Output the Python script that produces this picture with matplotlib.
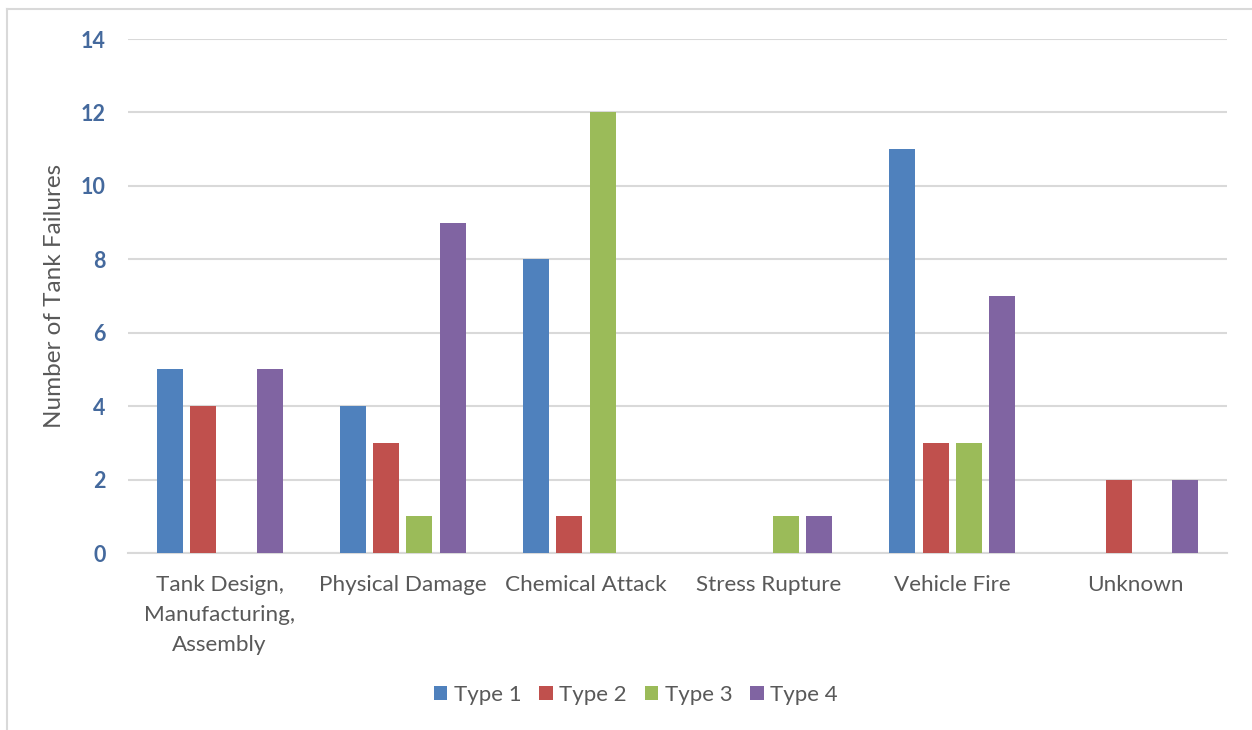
import numpy as np
import matplotlib.pyplot as plt
from matplotlib.lines import Line2D

categories = ['Tank Design,\nManufacturing,\nAssembly', 'Physical Damage', 'Chemical Attack',
              'Stress Rupture', 'Vehicle Fire', 'Unknown']
series = ['Type 1', 'Type 2', 'Type 3', 'Type 4']
type1 = [5, 4, 8, 0, 11, 0]
type2 = [4, 3, 1, 0, 3, 2]
type3 = [0, 1, 12, 1, 3, 0]
type4 = [5, 9, 0, 1, 7, 2]
colors = ['#4F81BD', '#C0504D', '#9BBB59', '#8064A2']

plt.rcParams['font.family'] = ['Lato', 'DejaVu Sans']

fig = plt.figure(figsize=(12.52, 7.30), dpi=100)
ax = fig.add_axes([128/1252, 1 - 553/730, (1227 - 128)/1252, (553 - 39)/730])

x = np.arange(len(categories))
pitch = 0.182
width = 0.142
for k, (name, vals) in enumerate(zip(series, [type1, type2, type3, type4])):
    ax.bar(x + (k - 1.5)*pitch, vals, width, color=colors[k], label=name, zorder=3)

ax.set_xlim(-0.5, len(categories) - 0.5)
ax.set_ylim(0, 14)
ax.set_yticks(range(0, 15, 2))
ax.grid(axis='y', color='#D9D9D9', linewidth=1.5, zorder=0)
for s in ['top', 'right', 'left']:
    ax.spines[s].set_visible(False)
ax.spines['bottom'].set_color('#D9D9D9')
ax.spines['bottom'].set_linewidth(1.5)
ax.tick_params(axis='both', length=0)
ax.tick_params(axis='y', pad=16, labelsize=15.5, labelcolor='#44699D')
for t in ax.get_yticklabels():
    t.set_fontweight('bold')
ax.set_xticks(x)
ax.set_xticklabels(categories, fontsize=16.2, color='#595959', linespacing=1.62)
ax.tick_params(axis='x', pad=16)
ax.set_ylabel('Number of Tank Failures', fontsize=17.5, color='#595959', labelpad=11)

ax.legend(loc='center', bbox_to_anchor=(636/1252, 1 - 695/730), bbox_transform=fig.transFigure,
          ncol=4, frameon=False, fontsize=16, labelcolor='#595959',
          handlelength=0.6, handleheight=0.6, handletextpad=0.3, columnspacing=0.8)

# chart frame edges
fig.add_artist(Line2D([7/1252, 7/1252], [0, 1 - 9/730], color='#D9D9D9', linewidth=1.5))
fig.add_artist(Line2D([7/1252, 1], [1 - 9/730, 1 - 9/730], color='#D9D9D9', linewidth=1.5))

fig.savefig('out.png', dpi=100)
